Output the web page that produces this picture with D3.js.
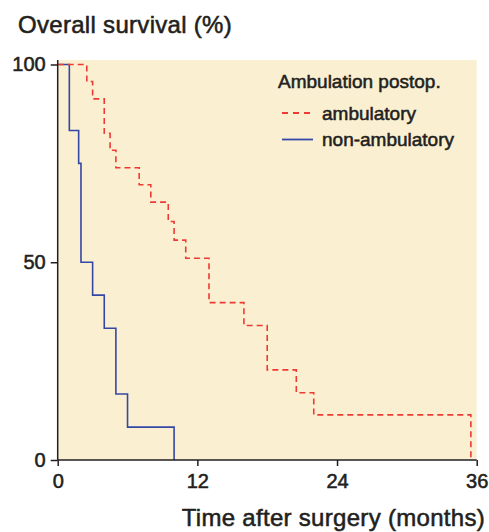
<!DOCTYPE html>
<meta charset="utf-8">
<title>Overall survival</title>
<style>
    body { margin: 0; background: #fff; }
    text { font-family: "Liberation Sans", Arial, sans-serif; fill: #231f20; stroke: #231f20; stroke-width: 0.55px; }
    .axis path, .axis line { stroke: #231f20; stroke-width: 1.5; }
    .axis text { font-size: 20px; }
</style>

<body>
    <script src="https://d3js.org/d3.v7.min.js" charset="utf-8"></script>
    <script>
        // data
        var ambTime = [0, 2.5, 3, 4, 4.5, 5, 7, 8, 9.5, 10, 11, 13, 16, 18, 20.5, 22, 35.5];
        var ambSurv = [100, 95.7, 91.3, 82.6, 78.3, 73.9, 69.6, 65.2, 60.3, 55.6, 51.0, 39.8, 34.0, 22.8, 17.0, 11.4, 0];
        var nonTime = [0, 1, 1.8, 2, 3, 4, 5, 6, 10];
        var nonSurv = [100, 83.3, 75, 50, 41.7, 33.3, 16.7, 8.3, 0];
        var xTicks = [0, 12, 24, 36];
        var yTicks = [0, 50, 100];
        var groups = ["ambulatory", "non-ambulatory"];

        var width = 489,
            height = 532;

        var svg = d3.select("body").append("svg")
            .attr("width", width)
            .attr("height", height);

        var x = d3.scaleLinear().domain([0, 36]).range([57.7, 476.7]);
        var y = d3.scaleLinear().domain([0, 100]).range([460, 64.5]);

        svg.append("rect")
            .attr("x", x(0))
            .attr("y", 60)
            .attr("width", x(36) - x(0))
            .attr("height", y(0) - 60)
            .style("fill", "#faf0d1");

        var line = d3.line()
            .x(function (d) { return x(d[0]); })
            .y(function (d) { return y(d[1]); })
            .curve(d3.curveStepAfter);

        svg.append("path")
            .datum(d3.zip(nonTime, nonSurv))
            .attr("d", line)
            .style("fill", "none")
            .style("stroke", "#3447a6")
            .style("stroke-width", 1.6);

        svg.append("path")
            .datum(d3.zip(ambTime, ambSurv))
            .attr("d", line)
            .style("fill", "none")
            .style("stroke", "#ee3a34")
            .style("stroke-width", 1.6)
            .style("stroke-dasharray", "6,4");

        svg.append("g")
            .attr("class", "axis")
            .attr("transform", "translate(0," + y(0) + ")")
            .call(d3.axisBottom(x).tickValues(xTicks).tickSize(6).tickPadding(8).tickSizeOuter(0))
            .call(function (g) { g.select(".domain").attr("d", "M" + x(0) + ",0H" + x(36)); });

        svg.append("g")
            .attr("class", "axis")
            .attr("transform", "translate(" + x(0) + ",0)")
            .call(d3.axisLeft(y).tickValues(yTicks).tickSize(7).tickPadding(5).tickSizeOuter(0))
            .call(function (g) { g.select(".domain").attr("d", "M0,60V" + y(0)); });

        svg.selectAll(".axis text").attr("font-family", null);

        svg.append("text")
            .attr("x", 18)
            .attr("y", 33)
            .style("font-size", "24px")
            .style("letter-spacing", "0.3px")
            .text("Overall survival (%)");

        svg.append("text")
            .attr("x", 485)
            .attr("y", 526)
            .attr("text-anchor", "end")
            .style("font-size", "24px")
            .style("letter-spacing", "0.3px")
            .text("Time after surgery (months)");

        // legend
        var legend = svg.append("g");
        legend.append("text")
            .attr("x", 278)
            .attr("y", 88)
            .style("font-size", "19px")
            .text("Ambulation postop.");

        var items = legend.selectAll(".item")
            .data(groups)
            .enter().append("g")
            .attr("transform", function (d, i) { return "translate(282," + (113 + i * 26.5) + ")"; });

        items.append("line")
            .attr("x1", 0).attr("x2", 31)
            .style("stroke", function (d, i) { return i == 0 ? "#ee3a34" : "#3447a6"; })
            .style("stroke-width", 1.8)
            .style("stroke-dasharray", function (d, i) { return i == 0 ? "6,5" : null; });

        items.append("text")
            .attr("x", 40)
            .attr("dy", "0.35em")
            .style("font-size", "19px")
            .text(function (d) { return d; });
    </script>
